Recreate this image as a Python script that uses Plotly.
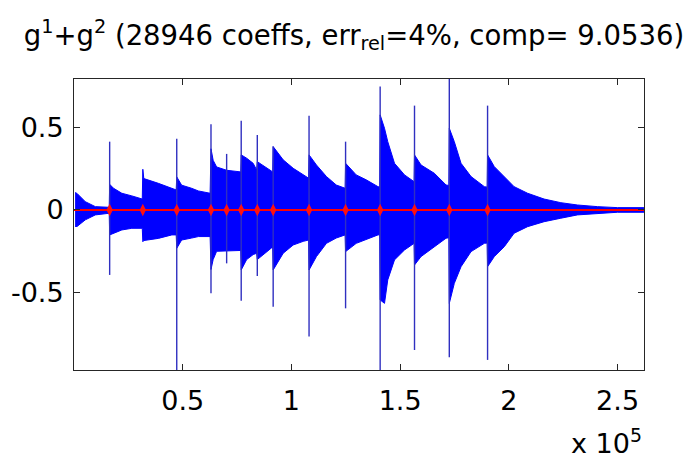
import plotly.graph_objects as go

# ---- data (x in units of 1e5 samples, amplitude) ----
X_RANGE = [0, 262144]
Y_RANGE = [-0.968, 0.792]

# upper / lower envelope of the blue signal (duplicate x near onsets gives jumps)
env_x = [0.005, 0.014, 0.052, 0.098, 0.162,
         0.164, 0.182, 0.220, 0.266, 0.314,
         0.3165, 0.321, 0.388, 0.450, 0.470,
         0.4725, 0.495, 0.541, 0.572, 0.626,
         0.630, 0.640, 0.656, 0.702, 0.767,
         0.769, 0.794, 0.824, 0.840,
         0.843, 0.908, 0.914,
         0.916, 0.962, 1.008, 1.054, 1.079,
         1.081, 1.115, 1.161, 1.206, 1.247,
         1.249, 1.298, 1.344, 1.398, 1.406,
         1.408, 1.428, 1.443, 1.474, 1.520, 1.564,
         1.566, 1.596, 1.657, 1.711, 1.724,
         1.726, 1.749, 1.780, 1.826, 1.887, 1.900,
         1.902, 1.933, 1.979, 2.024, 2.086, 2.162, 2.239, 2.315, 2.407, 2.500, 2.621]
env_upper = [0.105, 0.100, 0.050, 0.020, 0.016,
             0.155, 0.131, 0.101, 0.085, 0.066,
             0.246, 0.190, 0.161, 0.131, 0.121,
             0.200, 0.150, 0.131, 0.115, 0.101,
             0.370, 0.300, 0.260, 0.240, 0.230,
             0.333, 0.313, 0.282, 0.242,
             0.292, 0.232, 0.230,
             0.383, 0.303, 0.252, 0.212, 0.192,
             0.333, 0.272, 0.202, 0.151, 0.131,
             0.282, 0.212, 0.182, 0.141, 0.138,
             0.575, 0.494, 0.413, 0.282, 0.212, 0.171,
             0.333, 0.272, 0.222, 0.151, 0.148,
             0.494, 0.413, 0.282, 0.202, 0.141, 0.138,
             0.333, 0.262, 0.202, 0.141, 0.101, 0.066, 0.044, 0.030, 0.020, 0.014, 0.014]
env_lower = [-0.100, -0.100, -0.060, -0.030, -0.020,
             -0.151, -0.141, -0.121, -0.111, -0.111,
             -0.192, -0.185, -0.172, -0.151, -0.151,
             -0.232, -0.182, -0.170, -0.161, -0.161,
             -0.360, -0.300, -0.250, -0.250, -0.245,
             -0.363, -0.300, -0.270, -0.262,
             -0.300, -0.230, -0.228,
             -0.363, -0.262, -0.212, -0.190, -0.182,
             -0.363, -0.282, -0.202, -0.170, -0.151,
             -0.252, -0.202, -0.181, -0.151, -0.150,
             -0.544, -0.565, -0.423, -0.302, -0.242, -0.202,
             -0.333, -0.282, -0.222, -0.171, -0.168,
             -0.565, -0.444, -0.343, -0.252, -0.202, -0.200,
             -0.343, -0.282, -0.222, -0.141, -0.101, -0.071, -0.050, -0.030, -0.020, -0.014, -0.014]

# isolated transient spikes
spike_x = [0.164, 0.4725, 0.630, 0.702, 0.769, 0.843, 0.916, 1.081, 1.249, 1.408, 1.566, 1.726, 1.902]
spike_top = [0.413, 0.431, 0.518, 0.339, 0.540, 0.454, 0.383, 0.569, 0.413, 0.746, 0.631, 0.792, 0.631]
spike_bottom = [-0.393, -0.968, -0.504, -0.323, -0.549, -0.399, -0.585, -0.766, -0.595, -0.968, -0.847, -0.891, -0.907]

# red approximation (g1+g2): baseline plus bursts at onsets
red_line_x = [0.0, 2.621]
red_line_y = [0.0, 0.0]
red_burst_x = [0.164, 0.3165, 0.4725, 0.630, 0.702, 0.769, 0.843, 0.916, 1.081, 1.249, 1.408, 1.566, 1.726, 1.902]

x_tickvals = [0.5, 1.0, 1.5, 2.0, 2.5]
x_ticktext = ["0.5", "1", "1.5", "2", "2.5"]
y_tickvals = [-0.5, 0, 0.5]
y_ticktext = ["-0.5", "0", "0.5"]

TITLE = "g<sup>1</sup>+g<sup>2</sup> (28946 coeffs, err<sub>rel</sub>=4%, comp= 9.0536)"
SCALE = 1e5

# ---- figure ----
fig = go.Figure()

poly_x = [v * SCALE for v in env_x] + [v * SCALE for v in env_x[::-1]]
poly_y = list(env_upper) + list(env_lower[::-1])
fig.add_trace(go.Scatter(x=poly_x, y=poly_y, mode="lines", fill="toself",
                         fillcolor="#0000ff", line=dict(color="#0000ff", width=1),
                         hoverinfo="skip", showlegend=False))

sx, sy = [], []
for x, t, b in zip(spike_x, spike_top, spike_bottom):
    sx += [x * SCALE, x * SCALE, None]
    sy += [b, t, None]
fig.add_trace(go.Scatter(x=sx, y=sy, mode="lines", line=dict(color="#3030c0", width=1.4),
                         hoverinfo="skip", showlegend=False))

fig.add_trace(go.Scatter(x=[v * SCALE for v in red_line_x], y=red_line_y, mode="lines",
                         line=dict(color="#ff0000", width=2), showlegend=False))
fig.add_trace(go.Scatter(x=[v * SCALE for v in red_burst_x], y=[0] * len(red_burst_x), mode="markers",
                         marker=dict(symbol="diamond-tall", size=9, color="#ff1010"),
                         showlegend=False))

font_family = "DejaVu Sans, Liberation Sans, sans-serif"
axis_common = dict(showline=True, linecolor="#262626", linewidth=1, mirror="ticks",
                   ticks="inside", ticklen=6, tickcolor="#262626", showgrid=False,
                   zeroline=False, automargin=False,
                   tickfont=dict(family=font_family, size=27, color="black"))

# the page places the figure 8px from the top-left corner of the window
W, H = 688, 454
fig.update_layout(
    width=W, height=H,
    margin=dict(l=66, r=52, t=71, b=92, autoexpand=False),
    paper_bgcolor="white", plot_bgcolor="white",
    title=dict(text=TITLE, x=(354 - 8) / W, xanchor="center", xref="container",
               y=1 - (35 - 8) / H, yanchor="middle", yref="container", automargin=False,
               font=dict(family=font_family, size=27.5, color="black")),
    xaxis=dict(range=X_RANGE, tickvals=[v * SCALE for v in x_tickvals], ticktext=x_ticktext,
               ticklabelstandoff=7, **axis_common),
    yaxis=dict(range=Y_RANGE, tickvals=y_tickvals, ticktext=y_ticktext,
               ticklabelstandoff=4, **axis_common),
    annotations=[dict(text="x 10<sup>5</sup>", xref="paper", yref="paper", x=1.0, y=-0.245,
                      xanchor="right", yanchor="middle", showarrow=False,
                      font=dict(family=font_family, size=27, color="black"))],
)

fig.write_html("out.html")
